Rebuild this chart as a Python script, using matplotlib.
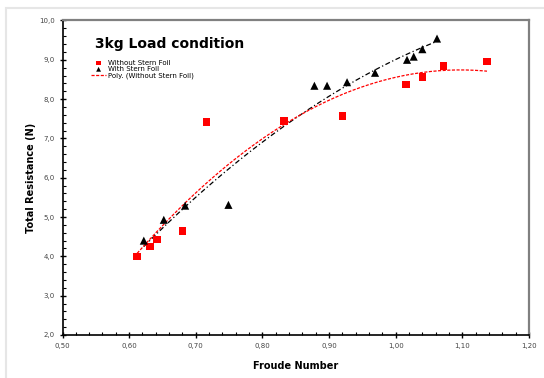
import numpy as np
import matplotlib
matplotlib.use("Agg")
import matplotlib.pyplot as plt
from matplotlib.ticker import MultipleLocator, FuncFormatter

# ── data ────────────────────────────────────────────────────────────
fr_without = [0.612, 0.631, 0.642, 0.680, 0.716, 0.832, 0.920, 1.015, 1.040, 1.072, 1.137]
rt_without = [4.00, 4.25, 4.43, 4.64, 7.42, 7.45, 7.57, 8.37, 8.56, 8.85, 8.96]

fr_with = [0.622, 0.652, 0.684, 0.749, 0.878, 0.897, 0.927, 0.969, 1.017, 1.027, 1.040, 1.062]
rt_with = [4.40, 4.93, 5.29, 5.31, 8.34, 8.34, 8.43, 8.67, 9.00, 9.08, 9.27, 9.54]

TITLE = "3kg Load condition"
LEGEND_LABELS = ["Without Stern Foil", "With Stern Foil", "Poly. (Without Stern Foil)"]


def comma_fmt(decimals):
    return FuncFormatter(lambda v, pos: f"{v:.{decimals}f}".replace(".", ","))


fig = plt.figure(figsize=(5.44, 3.78), dpi=100)
ax = fig.add_axes([0.1149, 0.1138, 0.8575, 0.832])

# faint page border like the source screenshot
fig.patches.append(plt.Rectangle((0.011, -0.01), 1.0, 0.989, transform=fig.transFigure,
                                 fill=False, edgecolor="#e6e6e6", linewidth=1.5))

# 2nd order trend lines
xa = np.linspace(min(fr_without), max(fr_without), 200)
pa = np.polyfit(fr_without, rt_without, 2)
xb = np.linspace(min(fr_with), max(fr_with), 200)
pb = np.polyfit(fr_with, rt_with, 2)

ax.plot(xb, np.polyval(pb, xb), color="black", linestyle=(0, (4, 2, 1, 2)), linewidth=0.9, zorder=2)
l_poly, = ax.plot(xa, np.polyval(pa, xa), color="red", linestyle=(0, (2.5, 1.2)), linewidth=0.9, zorder=2)

s_without = ax.scatter(fr_without, rt_without, marker="s", s=30, color="red", edgecolors="none", zorder=3)
s_with = ax.scatter(fr_with, rt_with, marker="^", s=34, color="black", edgecolors="none", zorder=3)

ax.set_xlim(0.50, 1.20)
ax.set_ylim(2.0, 10.0)
ax.xaxis.set_major_locator(MultipleLocator(0.1))
ax.xaxis.set_minor_locator(MultipleLocator(0.02))
ax.yaxis.set_major_locator(MultipleLocator(1.0))
ax.yaxis.set_minor_locator(MultipleLocator(0.2))
ax.xaxis.set_major_formatter(comma_fmt(2))
ax.yaxis.set_major_formatter(comma_fmt(1))

ax.tick_params(which="major", direction="inout", length=5, width=1.0, labelsize=5,
               labelcolor="#444444", pad=3)
ax.tick_params(which="minor", direction="in", length=2.5, width=0.8)

for side in ["left", "bottom"]:
    ax.spines[side].set_color("black")
    ax.spines[side].set_linewidth(1.2)
for side in ["top", "right"]:
    ax.spines[side].set_color("#808080")
    ax.spines[side].set_linewidth(1.6)

ax.set_xlabel("Froude Number", fontsize=7, fontweight="bold", labelpad=9)
ax.set_ylabel("Total Resistance (N)", fontsize=7, fontweight="bold", labelpad=2)

ax.text(0.07, 0.925, TITLE, transform=ax.transAxes, fontsize=10, fontweight="bold", va="center")

leg = ax.legend([s_without, s_with, l_poly], LEGEND_LABELS,
                loc="upper left", bbox_to_anchor=(0.055, 0.884), frameon=False,
                fontsize=5, handlelength=2.2, handletextpad=0.2, labelspacing=0.05,
                borderaxespad=0, scatterpoints=1, markerscale=0.6)

fig.savefig("out.png", dpi=100)
